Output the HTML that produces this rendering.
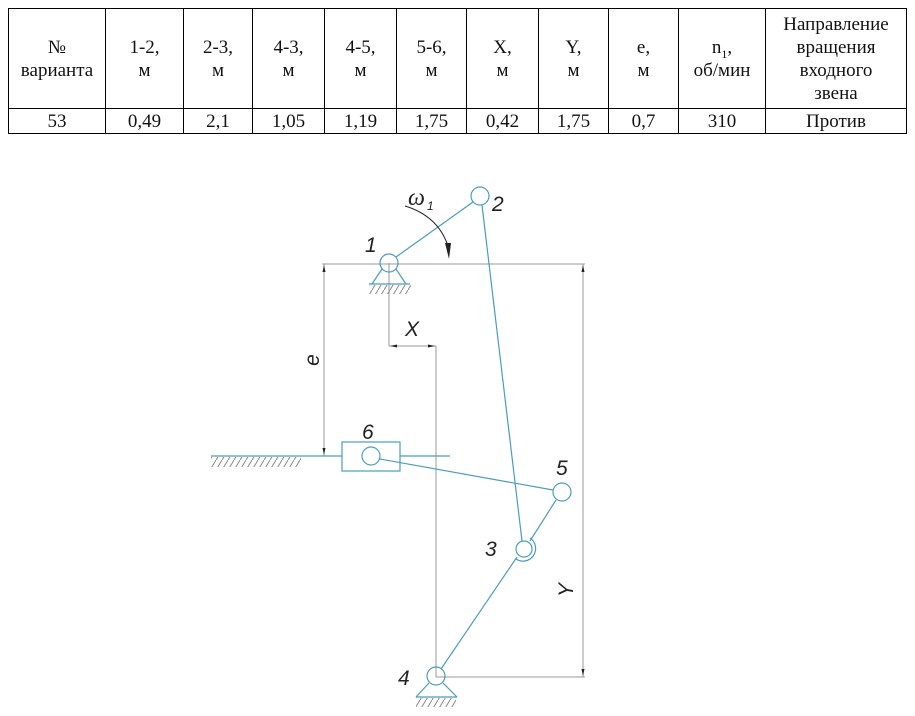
<!DOCTYPE html>
<html><head><meta charset="utf-8">
<style>
html,body{margin:0;padding:0;background:#fff;width:915px;height:716px;overflow:hidden;}
table{position:absolute;left:8px;top:8px;border-collapse:collapse;font-family:"Liberation Serif",serif;font-size:19px;color:#111;}
td{border:1px solid #000;text-align:center;padding:0;line-height:23px;}
sub{font-size:12px;line-height:0;}
svg{position:absolute;left:0;top:0;}
</style></head><body>
<table>
<tr style="height:100px">
<td style="width:96px">№<br>варианта</td>
<td style="width:77px">1-2,<br>м</td>
<td style="width:68px">2-3,<br>м</td>
<td style="width:71px">4-3,<br>м</td>
<td style="width:71px">4-5,<br>м</td>
<td style="width:69px">5-6,<br>м</td>
<td style="width:71px">X,<br>м</td>
<td style="width:69px">Y,<br>м</td>
<td style="width:69px">e,<br>м</td>
<td style="width:86px">n<sub>1</sub>,<br>об/мин</td>
<td style="width:140px">Направление<br>вращения<br>входного<br>звена</td>
</tr>
<tr style="height:25px">
<td>53</td><td>0,49</td><td>2,1</td><td>1,05</td><td>1,19</td><td>1,75</td><td>0,42</td><td>1,75</td><td>0,7</td><td>310</td><td>Против</td>
</tr>
</table>
<svg width="915" height="716" viewBox="0 0 915 716">
<defs>
<pattern id="h" width="6" height="10" patternUnits="userSpaceOnUse">
<line x1="6" y1="0" x2="0" y2="10" stroke="#888" stroke-width="1"/>
</pattern>
</defs>
<g stroke="#999" stroke-width="1" fill="none">
<line x1="322" y1="264" x2="585" y2="264"/>
<line x1="324" y1="264" x2="324" y2="456"/>
<line x1="583" y1="264" x2="583" y2="677"/>
<line x1="389" y1="263" x2="389" y2="346"/>
<line x1="389" y1="346" x2="436" y2="346"/>
<line x1="436" y1="346" x2="436" y2="677"/>
<line x1="436" y1="677" x2="585" y2="677"/>
</g>
<g fill="#222">
<path d="M324 265 l-1.5 7 h3z"/><path d="M324 455 l-1.5 -7 h3z"/>
<path d="M583 265 l-1.5 7 h3z"/><path d="M583 676 l-1.5 -7 h3z"/>
<path d="M390 346 l7 -1.5 v3z"/><path d="M435 346 l-7 -1.5 v3z"/>
</g>
<rect x="369" y="285" width="42" height="9" fill="url(#h)"/>
<rect x="211" y="457" width="90" height="10" fill="url(#h)"/>
<rect x="416" y="698" width="40" height="9" fill="url(#h)"/>
<g stroke="#4a9cc0" stroke-width="1.2" fill="none">
<line x1="369" y1="284" x2="410" y2="284"/>
<path d="M372 284 L382 269 M396 269 L406 284"/>
<line x1="211" y1="456" x2="342" y2="456"/>
<line x1="400" y1="456" x2="450" y2="456"/>
<rect x="342" y="442" width="58" height="29"/>
<circle cx="371" cy="456" r="9"/>
<circle cx="389" cy="263" r="9"/>
<circle cx="480" cy="196" r="9"/>
<circle cx="562" cy="492" r="9"/>
<circle cx="524" cy="549" r="8"/>
<path d="M516 559 A12 12 0 1 0 530 538"/>
<circle cx="436" cy="676" r="9"/>
<line x1="416" y1="697" x2="457" y2="697"/>
<path d="M416 697 L429 683 M443 683 L457 697"/>
<line x1="396" y1="257" x2="473" y2="202"/>
<line x1="482" y1="205" x2="522" y2="541"/>
<line x1="380" y1="459" x2="553" y2="490"/>
<line x1="530" y1="541" x2="556" y2="500"/>
<line x1="441" y1="669" x2="517" y2="557"/>
</g>
<path d="M405 206 Q438 216 448 246" stroke="#222" stroke-width="1" fill="none"/>
<path d="M449 259 L445 243 L451 243 Z" fill="#222"/>
<g font-family="Liberation Sans, sans-serif" font-style="italic" font-size="21" fill="#222">
<text x="408" y="205" font-family="Liberation Serif, serif" font-size="24">ω</text>
<text x="427" y="210" font-size="12">1</text>
<text x="365" y="252">1</text>
<text x="492" y="211">2</text>
<text x="362" y="439">6</text>
<text x="556" y="475">5</text>
<text x="485" y="556">3</text>
<text x="398" y="685">4</text>
<text x="405" y="336">X</text>
<text transform="translate(319,360) rotate(-90)" text-anchor="middle">e</text>
<text transform="translate(573,590) rotate(-90)" text-anchor="middle">Y</text>
</g>
</svg>
</body></html>
